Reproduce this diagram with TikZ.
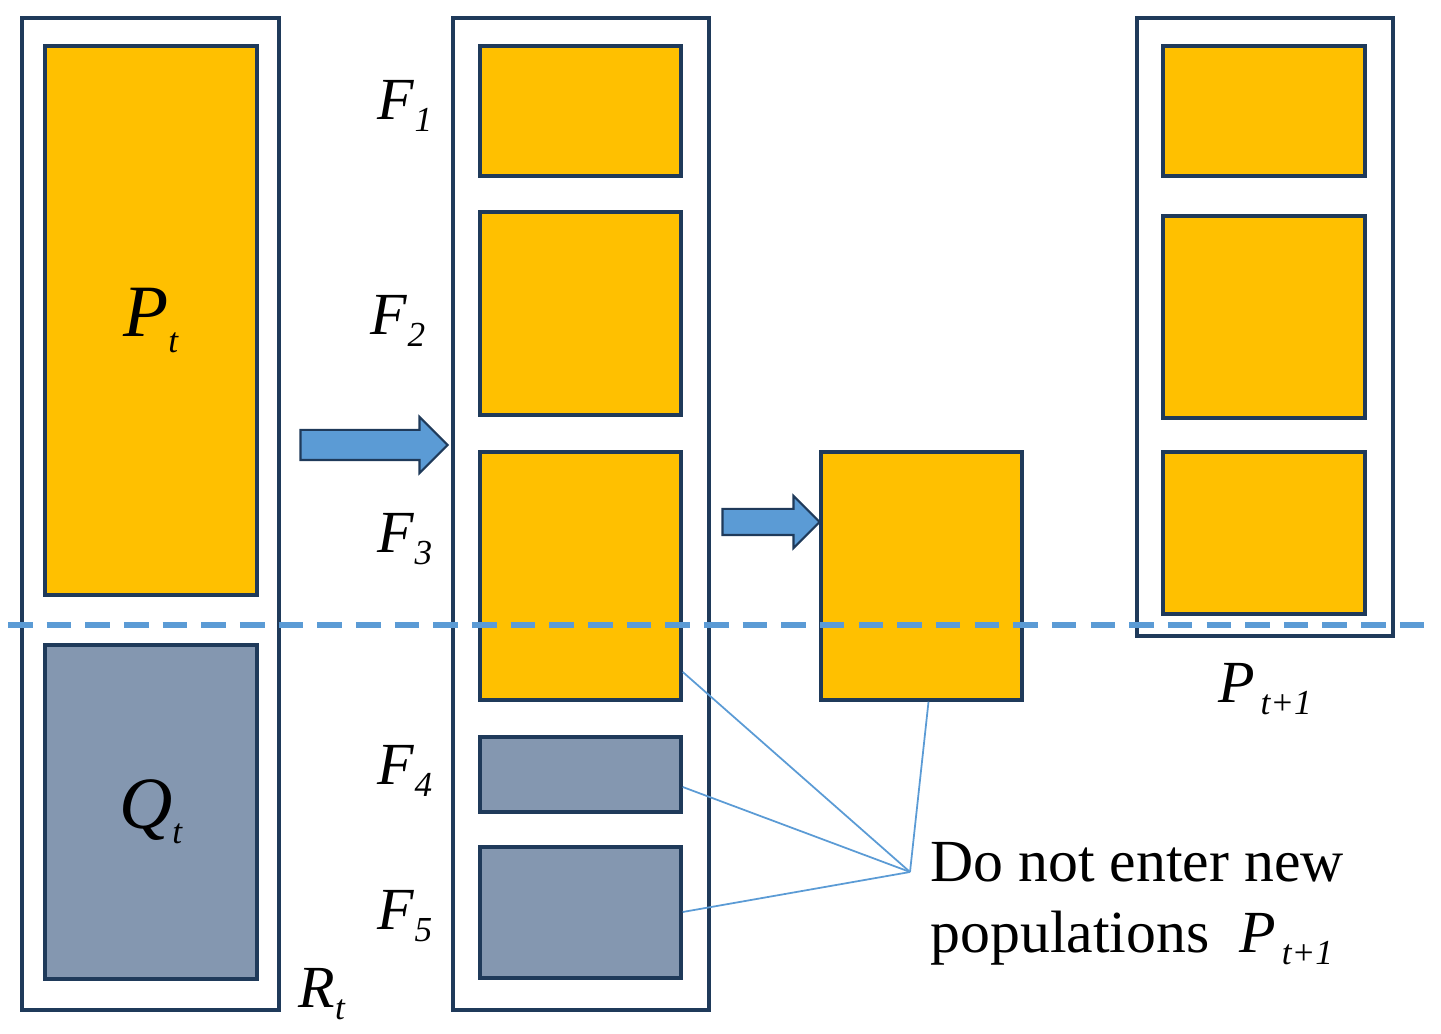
\documentclass[tikz,border=0pt]{standalone}
\usepackage{fontspec}
\setmainfont{Liberation Serif}
\usetikzlibrary{shapes.arrows}
\definecolor{popfill}{HTML}{FFC000}
\definecolor{rejfill}{HTML}{8497B0}
\definecolor{edge}{HTML}{1F3A5A}
\definecolor{flow}{HTML}{5B9BD5}
\newcommand{\plab}[2]{\textit{#1}\raisebox{-0.45ex}{\fontsize{10}{10}\selectfont\textit{#2}}}
\tikzset{
  outer/.style={draw=edge,line width=1.3pt,inner sep=0pt},
  front/.style={draw=edge,fill=popfill,line width=1pt,inner sep=0pt,minimum width=2.01cm},
  reject/.style={front,fill=rejfill},
  blockarrow/.style={single arrow,draw=edge,fill=flow,line width=0.6pt,inner sep=0.14cm,
    single arrow head extend=0.13cm,single arrow head indent=0cm},
  lab/.style={font=\fontsize{17}{17}\selectfont},
  link/.style={draw=flow,line width=0.5pt}
}
\begin{document}
\begin{tikzpicture}
\useasboundingbox (0,0) rectangle (14.41,10.34);

% R_t
\node[outer,minimum width=2.57cm,minimum height=9.92cm] (rt) at (1.505,5.2) {};
\node[front,minimum width=2.12cm,minimum height=5.49cm] (pt) at (1.51,7.135) {\fontsize{21}{21}\selectfont\plab{P}{t}};
\node[reject,minimum width=2.12cm,minimum height=3.34cm] (qt) at (1.51,2.22) {\fontsize{21}{21}\selectfont\plab{Q}{t}};
\node[lab] (rtlab) at (3.22,0.4) {\plab{R}{t}};

% fronts
\node[outer,minimum width=2.56cm,minimum height=9.92cm] (sorted) at (5.81,5.2) {};
\node[front,minimum height=1.30cm] (f1) at (5.805,9.23) {};
\node[front,minimum height=2.03cm] (f2) at (5.805,7.205) {};
\node[front,minimum height=2.48cm] (f3) at (5.805,4.58) {};
\node[reject,minimum height=0.75cm] (f4) at (5.805,2.595) {};
\node[reject,minimum height=1.31cm] (f5) at (5.805,1.215) {};
\node[lab] (f1lab) at (4.05,9.28) {\plab{F}{1}};
\node[lab] (f2lab) at (3.98,7.13) {\plab{F}{2}};
\node[lab] (f3lab) at (4.05,4.95) {\plab{F}{3}};
\node[lab] (f4lab) at (4.05,2.63) {\plab{F}{4}};
\node[lab] (f5lab) at (4.05,1.18) {\plab{F}{5}};

% arrows
\node[blockarrow,minimum width=0.54cm,minimum height=1.47cm] (arr1) at (3.665,5.89) {};
\node[blockarrow,inner sep=0.12cm,minimum width=0.51cm,minimum height=0.97cm] (arr2) at (7.645,5.12) {};

% part of F_3
\node[front,minimum height=2.48cm] (part) at (9.215,4.58) {};

% P_{t+1}
\node[outer,minimum width=2.56cm,minimum height=6.18cm] (next) at (12.65,7.07) {};
\node[front,minimum width=2.02cm,minimum height=1.30cm] (n1) at (12.64,9.23) {};
\node[front,minimum width=2.02cm,minimum height=2.02cm] (n2) at (12.64,7.17) {};
\node[front,minimum width=2.02cm,minimum height=1.62cm] (n3) at (12.64,5.01) {};
\node[lab] (nextlab) at (12.65,3.45) {\plab{P}{\,t+1}};

% cut line
\coordinate (cutl) at (0.08,4.09);
\coordinate (cutr) at (14.3,4.09);
\draw[flow,line width=1.5pt,dash pattern=on 7pt off 4pt] (cutl) -- (cutr);

% discarded
\coordinate (meet) at (9.10,1.62);
\path[link] (f3.east |- 0,3.62) -- (meet);
\path[link] (f4.east |- 0,2.47) -- (meet);
\path[link] (f5.east |- 0,1.22) -- (meet);
\path[link] (part.south) ++(0.07,0) -- (meet);
\node[anchor=north west,align=left,font=\fontsize{17}{20}\selectfont,inner sep=0pt] (note) at (9.3,1.92)
  {Do not enter new\\populations\ \ \plab{P}{\,t+1}};
\end{tikzpicture}
\end{document}
